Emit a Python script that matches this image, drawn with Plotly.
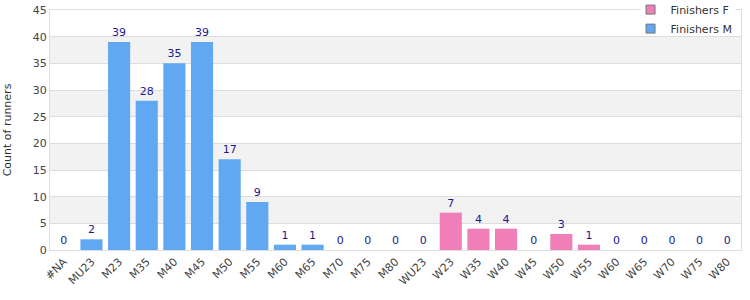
import plotly.graph_objects as go

categories = ["#NA", "MU23", "M23", "M35", "M40", "M45", "M50", "M55", "M60", "M65", "M70", "M75", "M80",
              "WU23", "W23", "W35", "W40", "W45", "W50", "W55", "W60", "W65", "W70", "W75", "W80"]
m_categories = ["#NA", "MU23", "M23", "M35", "M40", "M45", "M50", "M55", "M60", "M65", "M70", "M75", "M80"]
m_values = [0, 2, 39, 28, 35, 39, 17, 9, 1, 1, 0, 0, 0]
f_categories = ["WU23", "W23", "W35", "W40", "W45", "W50", "W55", "W60", "W65", "W70", "W75", "W80"]
f_values = [0, 7, 4, 4, 0, 3, 1, 0, 0, 0, 0, 0]

font = "DejaVu Sans"
label_color = "#1a1a8c"
f_color = "#f07fb8"
m_color = "#60a8f2"

fig = go.Figure()
fig.add_trace(go.Bar(name="Finishers F", x=f_categories, y=f_values, marker=dict(color=f_color, line=dict(width=0)),
                     text=[str(v) for v in f_values], textposition="outside", cliponaxis=False, showlegend=False,
                     textfont=dict(color=label_color, size=11, family=font)))
fig.add_trace(go.Bar(name="Finishers M", x=m_categories, y=m_values, marker=dict(color=m_color, line=dict(width=0)),
                     text=[str(v) for v in m_values], textposition="outside", cliponaxis=False, showlegend=False,
                     textfont=dict(color=label_color, size=11, family=font)))
# legend entries
for name, col in (("Finishers F", f_color), ("Finishers M", m_color)):
    fig.add_trace(go.Scatter(name=name, x=[None], y=[None], mode="markers",
                             marker=dict(symbol="square", size=9, color=col, line=dict(color="#777", width=1))))

shapes = []
for lo in (5, 15, 25, 35):
    shapes.append(dict(type="rect", xref="paper", yref="y", x0=0, x1=1, y0=lo, y1=lo + 5,
                       fillcolor="#f2f2f2", line=dict(width=0), layer="below"))
# white gap in the top frame line behind the legend
shapes.append(dict(type="rect", xref="paper", yref="paper", x0=0.855, x1=0.993, y0=0.994, y1=1.012,
                   fillcolor="white", line=dict(width=0), layer="above"))

fig.update_layout(
    width=750, height=300,
    margin=dict(l=50, r=9, t=10, b=50, autoexpand=False),
    paper_bgcolor="white", plot_bgcolor="white",
    barmode="overlay", bargap=0.2,
    font=dict(family=font, size=11, color="#444"),
    shapes=shapes,
    showlegend=True,
    legend=dict(x=0.995, xanchor="right", y=1.062, yanchor="top",
                bgcolor="rgba(255,255,255,0)", font=dict(size=11, color="#333", family=font),
                tracegroupgap=0, traceorder="normal", itemwidth=30,
                borderwidth=0),
    xaxis=dict(categoryorder="array", categoryarray=categories, tickangle=-45, automargin=False,
               showline=True, linecolor="#dddddd", mirror=True, ticks="",
               tickfont=dict(size=11, color="#444", family=font)),
    yaxis=dict(range=[0, 45], dtick=5, showgrid=True, gridcolor="#dddddd", automargin=False,
               showline=True, linecolor="#dddddd", mirror=True, zeroline=False,
               title=dict(text="Count of runners", font=dict(size=11, color="#333", family=font), standoff=18),
               tickfont=dict(size=11, color="#444", family=font)),
)
fig.write_html("out.html")
